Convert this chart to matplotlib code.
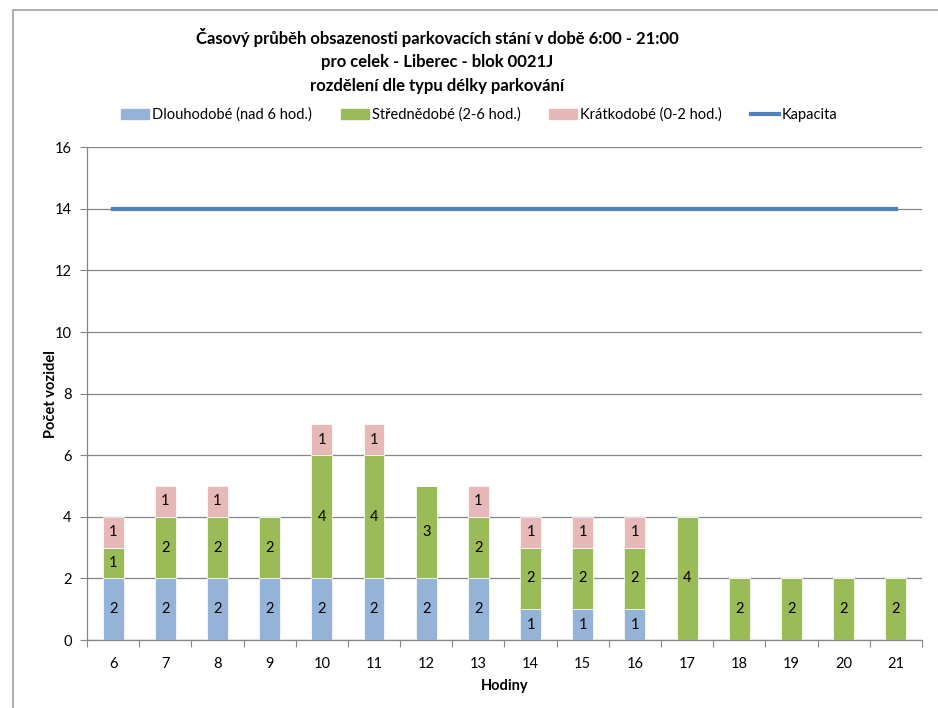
import numpy as np
import matplotlib
matplotlib.use('Agg')
import matplotlib.pyplot as plt
from matplotlib.patches import Rectangle
from matplotlib.lines import Line2D

plt.rcParams['font.family'] = ['Lato', 'DejaVu Sans']

# data
hodiny = [6, 7, 8, 9, 10, 11, 12, 13, 14, 15, 16, 17, 18, 19, 20, 21]
dlouhodobe = [2, 2, 2, 2, 2, 2, 2, 2, 1, 1, 1, 0, 0, 0, 0, 0]
strednedobe = [1, 2, 2, 2, 4, 4, 3, 2, 2, 2, 2, 4, 2, 2, 2, 2]
kratkodobe = [1, 1, 1, 0, 1, 1, 0, 1, 1, 1, 1, 0, 0, 0, 0, 0]
kapacita = [14] * len(hodiny)

c_blue = '#95B3D7'
c_green = '#9BBB59'
c_pink = '#E6B9B8'
c_line = '#4F81BD'
c_grid = '#868686'

fig = plt.figure(figsize=(9.38, 7.08), dpi=100)
ax = fig.add_axes([0.0928, 0.096, 0.890, 0.696])

x = np.arange(len(hodiny))
d = np.array(dlouhodobe)
s = np.array(strednedobe)
k = np.array(kratkodobe)
w = 0.4

ax.bar(x, d, w, color=c_blue, edgecolor='white', linewidth=0.5, zorder=3)
ax.bar(x, s, w, bottom=d, color=c_green, edgecolor='white', linewidth=0.5, zorder=3)
ax.bar(x, k, w, bottom=d + s, color=c_pink, edgecolor='white', linewidth=0.5, zorder=3)
ax.plot(x, kapacita, color=c_line, linewidth=3, zorder=4)

# value labels in the middle of each segment
for vals, bottoms in [(d, np.zeros_like(d)), (s, d), (k, d + s)]:
    for xi, v, b in zip(x, vals, bottoms):
        if v > 0:
            ax.text(xi, b + v / 2, str(v), ha='center', va='center', fontsize=10.5, color='black', zorder=5)

ax.set_xlim(-0.5, len(hodiny) - 0.5)
ax.set_ylim(0, 16)
ax.set_yticks(np.arange(0, 17, 2))
ax.yaxis.grid(True, color=c_grid, linewidth=0.9, zorder=0)
ax.tick_params(axis='y', direction='out', length=5, color=c_grid, labelsize=10.5, pad=6)

# ticks between categories, labels at centers
ax.set_xticks(np.arange(-0.5, len(hodiny), 1))
ax.set_xticklabels([])
ax.set_xticks(x, minor=True)
ax.set_xticklabels([str(h) for h in hodiny], minor=True)
ax.tick_params(axis='x', which='major', direction='out', length=5, color=c_grid)
ax.tick_params(axis='x', which='minor', length=0, labelsize=10.5, pad=12)

for sp in ['top', 'right']:
    ax.spines[sp].set_visible(False)
for sp in ['left', 'bottom']:
    ax.spines[sp].set_color(c_grid)
    ax.spines[sp].set_linewidth(0.9)

ax.set_ylabel('Počet vozidel', fontsize=10.5, fontweight='bold', labelpad=-2)
ax.set_xlabel('Hodiny', fontsize=10.5, fontweight='bold', labelpad=6)

fig.text(0.466, 0.947, 'Časový průběh obsazenosti parkovacích stání v době 6:00 - 21:00',
         ha='center', va='center', fontsize=12, fontweight='bold')
fig.text(0.466, 0.913, 'pro celek - Liberec - blok 0021J',
         ha='center', va='center', fontsize=12, fontweight='bold')
fig.text(0.466, 0.879, 'rozdělení dle typu délky parkování',
         ha='center', va='center', fontsize=12, fontweight='bold')

handles = [Rectangle((0, 0), 1, 1, color=c_blue), Rectangle((0, 0), 1, 1, color=c_green),
           Rectangle((0, 0), 1, 1, color=c_pink), Line2D([], [], color=c_line, linewidth=3)]
labels = ['Dlouhodobé (nad 6 hod.)', 'Střednědobé (2-6 hod.)', 'Krátkodobé (0-2 hod.)', 'Kapacita']
fig.legend(handles, labels, loc='center', bbox_to_anchor=(0.511, 0.838), ncol=4, frameon=False,
           fontsize=10.5, handlelength=1.9, handleheight=0.7, handletextpad=0.2, columnspacing=2.0)

# chart frame
fig.patches.append(Rectangle((13 / 938, -0.05), 1.1, 1 - 10 / 708 + 0.05, transform=fig.transFigure,
                             fill=False, edgecolor='#A0A0A0', linewidth=1.2))

fig.savefig('out.png', dpi=100)
